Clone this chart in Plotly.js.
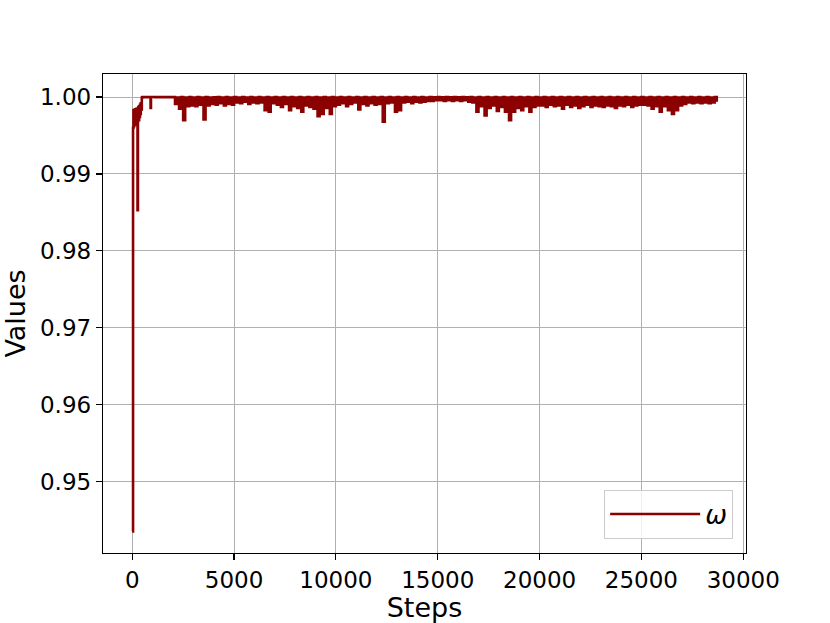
<!DOCTYPE html>
<html>
<head>
<meta charset="utf-8">
<script src="https://cdn.plot.ly/plotly-3.0.1.min.js"></script>
<style>html,body{margin:0;padding:0;background:#fff;}#chart{width:830px;height:623px;}</style>
</head>
<body>
<div id="chart"></div>
<script>
// Early (warm-up) part: explicit steps and values
const earlySteps = [0, 40, 60, 80, 100, 120, 140, 160, 180, 200, 220, 240, 260, 280, 300, 320, 340, 360, 380, 400, 420, 440, 470, 500, 600, 700, 800, 880, 900, 920, 1000, 1100, 1200, 1300, 1400, 1500, 1600, 1700, 1800, 1900];
const earlyValues = [0.9435, 0.9960, 0.9983, 0.9962, 0.9981, 0.9966, 0.9984, 0.9964, 0.9982, 0.9968, 0.9985, 0.9970, 0.9853, 0.9975, 0.9987, 0.9970, 0.9988, 0.9974, 0.9990, 0.9978, 0.9992, 0.9984, 0.99995, 1.0000, 0.99998, 1.0000, 0.99999, 1.0000, 0.9986, 1.0000, 1.0000, 0.99998, 1.0000, 0.99999, 1.0000, 0.99998, 1.0000, 0.99999, 1.0000, 0.99998];

// Main part: logged every 100 steps from step 2000
const mainStart = 2000;
const logInterval = 100;
const mainValues = [
  // 2000-2900
  1.0000, 0.9991, 0.99995, 0.9985, 1.0000, 0.9970, 0.99995, 0.9988, 1.0000, 0.9989,
  // 3000-3900
  0.99995, 0.9988, 1.0000, 0.9990, 0.99995, 0.9971, 1.0000, 0.9989, 0.99995, 0.9991,
  // 4000-4900
  0.99998, 0.9990, 1.0000, 0.9992, 0.99995, 0.9989, 1.0000, 0.9991, 0.99995, 0.9990,
  // 5000-5900
  1.0000, 0.9993, 0.99995, 0.9992, 1.0000, 0.9994, 0.99995, 0.9991, 1.0000, 0.9993,
  // 6000-6900
  0.99995, 0.9992, 1.0000, 0.9993, 0.99995, 0.9983, 1.0000, 0.9981, 0.99995, 0.9992,
  // 7000-7900
  1.0000, 0.9990, 0.99995, 0.9987, 1.0000, 0.9991, 0.99995, 0.9983, 1.0000, 0.9988,
  // 8000-8900
  0.99995, 0.9986, 1.0000, 0.9981, 0.99995, 0.9989, 1.0000, 0.9987, 0.99995, 0.9985,
  // 9000-9900
  1.0000, 0.9975, 0.99995, 0.9978, 1.0000, 0.9986, 0.99995, 0.9978, 1.0000, 0.9988,
  // 10000-10900
  0.99995, 0.9990, 1.0000, 0.9992, 0.99995, 0.9988, 1.0000, 0.9991, 0.99995, 0.9993,
  // 11000-11900
  1.0000, 0.9984, 0.99995, 0.9991, 1.0000, 0.9989, 0.99995, 0.9992, 1.0000, 0.9990,
  // 12000-12900
  0.99995, 0.9991, 1.0000, 0.9968, 0.99995, 0.9992, 1.0000, 0.9993, 0.99995, 0.9981,
  // 13000-13900
  1.0000, 0.9983, 0.99995, 0.9993, 1.0000, 0.9994, 0.99995, 0.9992, 1.0000, 0.9994,
  // 14000-14900
  0.99995, 0.9993, 1.0000, 0.9994, 0.99995, 0.9995, 1.0000, 0.9995, 0.99998, 0.9996,
  // 15000-15900
  1.0000, 0.9996, 0.99998, 0.9995, 1.0000, 0.9996, 0.99998, 0.9995, 1.0000, 0.9996,
  // 16000-16900
  0.99998, 0.9995, 1.0000, 0.9996, 0.99998, 0.9994, 1.0000, 0.9993, 0.99995, 0.9981,
  // 17000-17900
  1.0000, 0.9988, 0.99995, 0.9976, 1.0000, 0.9986, 0.99995, 0.9989, 1.0000, 0.9982,
  // 18000-18900
  0.99995, 0.9987, 1.0000, 0.9981, 0.99995, 0.9970, 1.0000, 0.9981, 0.99995, 0.9986,
  // 19000-19900
  1.0000, 0.9983, 0.99995, 0.9988, 1.0000, 0.9981, 0.99995, 0.9987, 1.0000, 0.9989,
  // 20000-20900
  0.99995, 0.9989, 1.0000, 0.9987, 0.99995, 0.9990, 1.0000, 0.9988, 0.99995, 0.9989,
  // 21000-21900
  1.0000, 0.9985, 0.99995, 0.9990, 1.0000, 0.9987, 0.99995, 0.9989, 1.0000, 0.9986,
  // 22000-22900
  0.99995, 0.9988, 1.0000, 0.9990, 0.99995, 0.9987, 1.0000, 0.9989, 0.99995, 0.9988,
  // 23000-23900
  1.0000, 0.9987, 0.99995, 0.9989, 1.0000, 0.9988, 0.99995, 0.9986, 1.0000, 0.9989,
  // 24000-24900
  0.99995, 0.9988, 1.0000, 0.9990, 0.99995, 0.9987, 1.0000, 0.9989, 0.99995, 0.9990,
  // 25000-25900
  1.0000, 0.9990, 0.99995, 0.9989, 1.0000, 0.9985, 0.99995, 0.9988, 1.0000, 0.9981,
  // 26000-26900
  0.99995, 0.9988, 1.0000, 0.9983, 0.99995, 0.9978, 1.0000, 0.9983, 0.99995, 0.9989,
  // 27000-27900
  1.0000, 0.9991, 0.99995, 0.9993, 1.0000, 0.9992, 0.99995, 0.9993, 1.0000, 0.9992,
  // 28000-28700
  0.99995, 0.9993, 1.0000, 0.9992, 0.99995, 0.9993, 1.0000, 0.9994
];

const seriesName = '<i>ω</i>';
const xTickVals = [0, 5000, 10000, 15000, 20000, 25000, 30000];
const xTickText = ['0', '5000', '10000', '15000', '20000', '25000', '30000'];
const yTickVals = [0.95, 0.96, 0.97, 0.98, 0.99, 1.00];
const yTickText = ['0.95', '0.96', '0.97', '0.98', '0.99', '1.00'];

const steps = earlySteps.concat(mainValues.map((_, i) => mainStart + i * logInterval));
const values = earlyValues.concat(mainValues);

const trace = {
  x: steps, y: values, type: 'scatter', mode: 'lines', name: seriesName,
  line: {color: '#8b0000', width: 2.6, shape: 'hv'}
};

const axisCommon = {
  showline: true, linecolor: '#000', linewidth: 1.2, mirror: true,
  ticks: 'outside', ticklen: 6, tickwidth: 1.2, tickcolor: '#000',
  showgrid: true, gridcolor: '#b0b0b0', gridwidth: 1, zeroline: false,
  tickfont: {family: 'DejaVu Sans', size: 23, color: '#000'}
};

const layout = {
  width: 830, height: 623,
  margin: {l: 103, r: 84, t: 74, b: 70},
  paper_bgcolor: '#fff', plot_bgcolor: '#fff',
  font: {family: 'DejaVu Sans', color: '#000'},
  showlegend: true,
  xaxis: Object.assign({}, axisCommon, {
    range: [-1435, 30135], tickvals: xTickVals, ticktext: xTickText,
    title: {text: 'Steps', font: {family: 'DejaVu Sans', size: 27, color: '#000'}, standoff: 6}
  }),
  yaxis: Object.assign({}, axisCommon, {
    range: [0.9407, 1.003], tickvals: yTickVals, ticktext: yTickText,
    title: {text: 'Values', font: {family: 'DejaVu Sans', size: 27, color: '#000'}, standoff: 8}
  }),
  legend: {
    x: 0.98, y: 0.03, xanchor: 'right', yanchor: 'bottom',
    bgcolor: 'rgba(255,255,255,0.8)', bordercolor: '#cccccc', borderwidth: 1,
    itemwidth: 90,
    font: {family: 'DejaVu Sans', size: 26, color: '#000'}
  }
};

Plotly.newPlot('chart', [trace], layout, {displayModeBar: false, staticPlot: true});
</script>
</body>
</html>
